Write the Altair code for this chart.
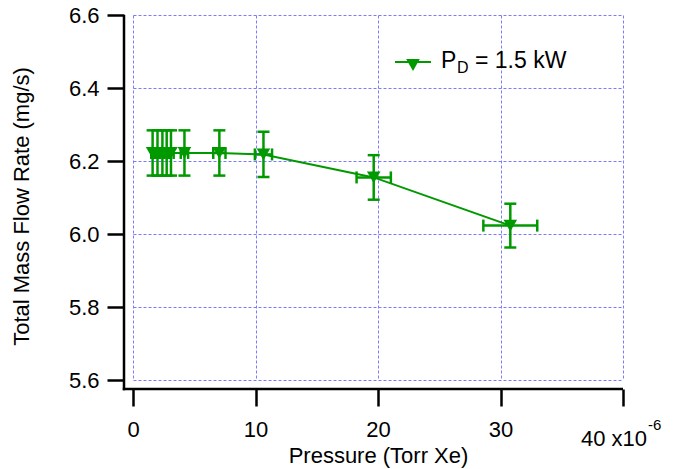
import altair as alt
import pandas as pd

# Data (pressure in units of 1e-6 Torr Xe)
pressure = [1.6, 2.0, 2.4, 2.75, 3.1, 4.2, 7.05, 10.65, 19.65, 30.8]
pressure_err = [0.11, 0.14, 0.17, 0.19, 0.22, 0.3, 0.5, 0.7, 1.4, 2.2]
flow = [6.222, 6.222, 6.222, 6.222, 6.222, 6.222, 6.222, 6.218, 6.155, 6.023]
flow_err = [0.062, 0.062, 0.062, 0.062, 0.062, 0.062, 0.062, 0.062, 0.061, 0.060]

x_ticks = [0, 10, 20, 30, 40]
y_ticks = [5.6, 5.8, 6.0, 6.2, 6.4, 6.6]
legend_parts = ["P", "D", "= 1.5 kW"]
exp_parts = ["40 x10", "-6"]

G = "#009900"
FONT = "Liberation Sans"

df = pd.DataFrame({
    "x": pressure,
    "y": flow,
    "xlo": [p - e for p, e in zip(pressure, pressure_err)],
    "xhi": [p + e for p, e in zip(pressure, pressure_err)],
    "ylo": [f - e for f, e in zip(flow, flow_err)],
    "yhi": [f + e for f, e in zip(flow, flow_err)],
})
one = pd.DataFrame({"k": [0]})

axis_common = dict(
    offset=9, tickSize=17, tickWidth=2.5, tickColor="black", domain=False,
    grid=True, gridColor="#7b7bff", gridDash=[3, 2], gridWidth=1,
    labelFont=FONT, labelFontSize=22, labelColor="black", labelFlush=False,
    titleFont=FONT, titleFontSize=22, titleFontWeight="normal", titleColor="black",
)

xs = alt.X("x:Q", title="Pressure (Torr Xe)",
           scale=alt.Scale(domain=[0, 40], nice=False, zero=False),
           axis=alt.Axis(values=x_ticks, labelPadding=13,
                         labelExpr="datum.value == 40 ? '' : datum.label",
                         titleY=73, titleBaseline="alphabetic", **axis_common))
ys = alt.Y("y:Q", title="Total Mass Flow Rate (mg/s)",
           scale=alt.Scale(domain=[5.6, 6.6], nice=False, zero=False),
           axis=alt.Axis(values=y_ticks, format=".1f", labelPadding=8,
                         titleX=-96, titleY=191, titleBaseline="alphabetic",
                         titleAlign="center", **axis_common))

base = alt.Chart(df)

line = base.mark_line(color=G, strokeWidth=2).encode(x=xs, y=ys)
vbar = base.mark_rule(color=G, strokeWidth=2.5).encode(x="x:Q", y="ylo:Q", y2="yhi:Q")
vcap_t = base.mark_tick(color=G, orient="horizontal", size=12, thickness=2.5, opacity=1).encode(x="x:Q", y="yhi:Q")
vcap_b = base.mark_tick(color=G, orient="horizontal", size=12, thickness=2.5, opacity=1).encode(x="x:Q", y="ylo:Q")
hbar = base.mark_rule(color=G, strokeWidth=2.5).encode(x="xlo:Q", x2="xhi:Q", y="y:Q")
hcap_l = base.mark_tick(color=G, orient="vertical", size=12, thickness=2.5, opacity=1).encode(x="xlo:Q", y="y:Q")
hcap_r = base.mark_tick(color=G, orient="vertical", size=12, thickness=2.5, opacity=1).encode(x="xhi:Q", y="y:Q")
pts = base.mark_point(shape="triangle-down", filled=True, size=185, color=G, opacity=1).encode(x="x:Q", y="y:Q")

# axis lines (Igor style, offset from plot area)
left_axis = alt.Chart(one).mark_rule(color="black", strokeWidth=2.5).encode(
    x=alt.value(-9), y=alt.value(0), y2=alt.value(375.25))
bottom_axis = alt.Chart(one).mark_rule(color="black", strokeWidth=2.5).encode(
    x=alt.value(-10.25), x2=alt.value(490), y=alt.value(374))

# exponent label at the last tick
exp_main = alt.Chart(one).mark_text(text=exp_parts[0], font=FONT, fontSize=22, align="left",
                                    baseline="alphabetic", dx=-42, color="black").encode(
    x=alt.datum(40), y=alt.value(431))
exp_sup = alt.Chart(one).mark_text(text=exp_parts[1], font=FONT, fontSize=15, align="left",
                                   baseline="alphabetic", dx=25, color="black").encode(
    x=alt.datum(40), y=alt.value(415))

# legend
leg_line = alt.Chart(one).mark_rule(color=G, strokeWidth=2).encode(
    x=alt.value(262), x2=alt.value(298), y=alt.value(47))
leg_pt = alt.Chart(one).mark_point(shape="triangle-down", filled=True, size=185, color=G, opacity=1).encode(
    x=alt.value(280), y=alt.value(50))
leg_p = alt.Chart(one).mark_text(text=legend_parts[0], font=FONT, fontSize=23, align="left",
                                 baseline="alphabetic", color="black").encode(
    x=alt.value(308), y=alt.value(53))
leg_d = alt.Chart(one).mark_text(text=legend_parts[1], font=FONT, fontSize=16, align="left",
                                 baseline="alphabetic", color="black").encode(
    x=alt.value(324), y=alt.value(58))
leg_txt = alt.Chart(one).mark_text(text=legend_parts[2], font=FONT, fontSize=23, align="left",
                                   baseline="alphabetic", color="black").encode(
    x=alt.value(342), y=alt.value(53))

chart = alt.layer(
    line, vbar, vcap_t, vcap_b, hbar, hcap_l, hcap_r, pts,
    left_axis, bottom_axis, exp_main, exp_sup,
    leg_line, leg_pt, leg_p, leg_d, leg_txt,
).properties(
    width=490, height=365,
    autosize=alt.AutoSizeParams(type="none"),
    padding={"left": 133, "top": 15, "right": 51, "bottom": 89},
    background="white",
).configure_view(stroke=None)

chart.save("out.html", embed_options={"renderer": "svg", "actions": False})
